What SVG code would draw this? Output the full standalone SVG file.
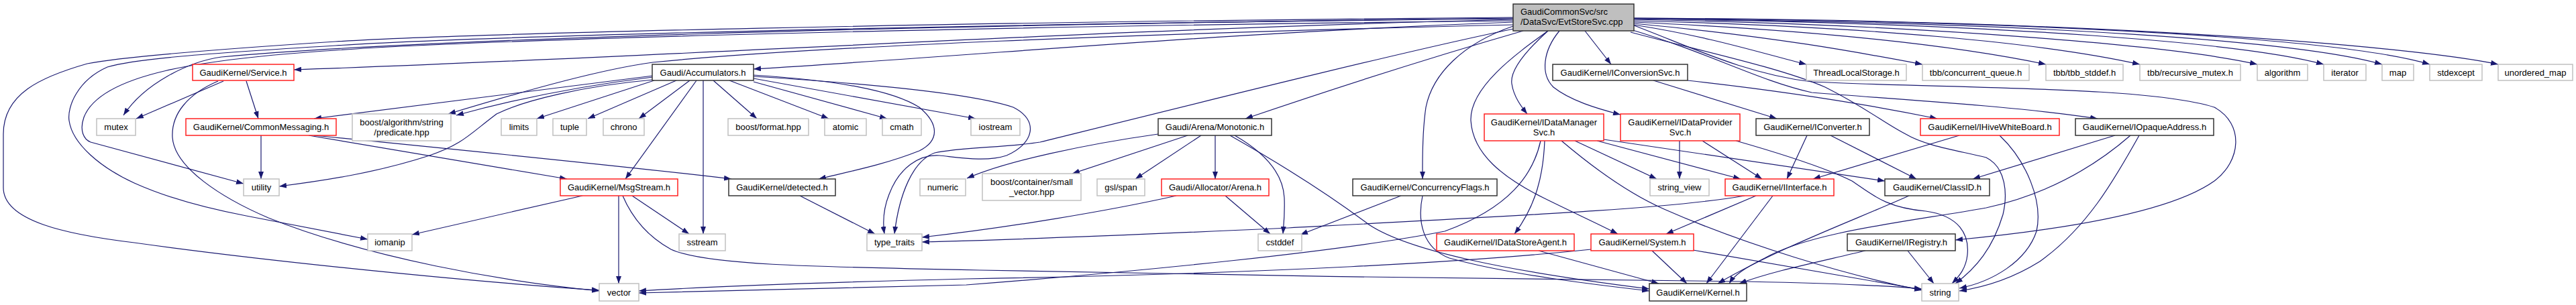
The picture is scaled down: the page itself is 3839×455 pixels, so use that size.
<svg xmlns="http://www.w3.org/2000/svg" width="3839" height="455" viewBox="0 0 3839 455">
<defs>
<marker id="ah" viewBox="0 0 11 8" refX="11" refY="4" markerWidth="11" markerHeight="8" markerUnits="userSpaceOnUse" orient="auto"><path d="M0,0L11,4L0,8z" fill="#191970"/></marker>
<style>
.e{fill:none;stroke:#191970;stroke-width:1.2;marker-end:url(#ah)}
rect{fill:#ffffff;stroke-width:1.5}
.g rect{stroke:#c0c0c0}
.b rect{stroke:#333333}
.r rect{stroke:#ff2020}
.m rect{fill:#bfbfbf;stroke:#333333}
text{font-family:"Liberation Sans",Arial,sans-serif;font-size:13px;fill:#000;text-anchor:middle}
.m text{text-anchor:start}
</style>
</defs>
<rect width="3839" height="455" fill="#ffffff" stroke="none"/>
<g id="edges">
<path class="e" d="M2255,29 C1600,45 1000,85 438,104"/>
<path class="e" d="M2255,33 C1800,50 1500,80 1123,103"/>
<path class="e" d="M2255,27 C1300,38 600,60 330,85 C280,92 215,125 184,172"/>
<path class="e" d="M2255,31 C1400,40 700,60 500,75 C300,88 150,110 125,175 C118,195 125,208 135,212 L363,274"/>
<path class="e" d="M2255,26 C1400,33 700,50 500,62 C300,75 180,85 130,95 C60,115 5,140 5,200 L5,280 C5,330 100,350 200,362 C400,390 700,420 893,433"/>
<path class="e" d="M2255,28 C1400,36 700,55 500,68 C300,80 200,88 160,100 C115,120 100,160 103,180 C108,215 150,250 200,273 C260,300 330,315 367,322 L548,357"/>
<path class="e" d="M2255,37 C1700,50 1200,70 973,93 C900,103 800,130 668,170"/>
<path class="e" d="M2256,43 C2100,75 1800,150 1550,212 C1500,220 1430,220 1393,228 C1360,240 1340,290 1333,349"/>
<path class="e" d="M2270,46 C2100,95 1950,145 1856,177"/>
<path class="e" d="M2255,39 C2180,65 2135,110 2125,160 C2119,200 2120,240 2120,267"/>
<path class="e" d="M2307,46 C2275,75 2250,105 2253,125 C2256,145 2268,160 2276,170"/>
<path class="e" d="M2307,46 C2260,80 2190,130 2192,180 C2195,230 2240,265 2300,295 C2340,315 2380,333 2411,349"/>
<path class="e" d="M2324,46 C2300,75 2295,110 2315,130 C2340,150 2380,162 2415,171"/>
<path class="e" d="M2362,46 L2401,96"/>
<path class="e" d="M2435,37 C2550,55 2620,78 2692,96"/>
<path class="e" d="M2435,35 C2650,55 2780,80 2865,96"/>
<path class="e" d="M2435,33 C2700,45 2900,65 3049,96"/>
<path class="e" d="M2435,31 C2800,40 3050,65 3189,96"/>
<path class="e" d="M2435,29 C2900,38 3250,70 3364,96"/>
<path class="e" d="M2435,28 C3000,35 3350,65 3463,96"/>
<path class="e" d="M2435,28 C3050,33 3430,62 3550,96"/>
<path class="e" d="M2435,27 C3100,32 3500,60 3621,96"/>
<path class="e" d="M2435,27 C3150,30 3600,70 3723,96"/>
<path class="e" d="M2430,44 C2550,80 2620,120 2700,138 C2850,150 3000,158 3126,177"/>
<path class="e" d="M2435,38 C2520,70 2600,110 2700,122 C2900,132 3200,128 3300,160 C3345,185 3340,240 3300,270 C3230,320 3050,345 2914,358"/>
<path class="e" d="M2430,48 C2530,75 2650,100 2720,130 C2780,160 2810,185 2840,200 C2870,218 2920,225 2960,235 C2990,250 2992,290 2985,320 C2970,370 2945,400 2914,423"/>
<path class="e" d="M333,121 L203,177"/>
<path class="e" d="M367,121 L385,177"/>
<path class="e" d="M325,121 C280,140 255,170 257,205 C260,250 330,295 400,325 C550,385 750,420 893,434"/>
<path class="e" d="M389,202 L389,267"/>
<path class="e" d="M460,202 L845,267"/>
<path class="e" d="M468,202 C700,225 950,250 1090,267"/>
<path class="e" d="M973,113 L468,177"/>
<path class="e" d="M973,115 C850,130 760,150 680,172"/>
<path class="e" d="M975,120 L800,177"/>
<path class="e" d="M1008,120 L876,177"/>
<path class="e" d="M1028,120 L952,177"/>
<path class="e" d="M1038,120 L932,267"/>
<path class="e" d="M973,119 C870,128 780,150 740,170 C700,200 690,215 640,232 C560,258 480,270 416,278"/>
<path class="e" d="M1048,120 L1048,349"/>
<path class="e" d="M1063,120 L1128,177"/>
<path class="e" d="M1087,120 L1235,177"/>
<path class="e" d="M1123,122 L1322,177"/>
<path class="e" d="M1123,117 L1454,177"/>
<path class="e" d="M1123,112 C1250,120 1330,135 1370,160 C1400,185 1400,210 1370,225 C1320,245 1270,255 1220,267"/>
<path class="e" d="M1123,114 C1300,125 1450,140 1510,160 C1550,180 1540,215 1500,232 C1470,242 1430,235 1400,232 C1370,230 1340,250 1325,290 C1315,315 1316,335 1318,349"/>
<path class="e" d="M868,292 L614,350"/>
<path class="e" d="M922,292 L922,423"/>
<path class="e" d="M942,292 L1027,349"/>
<path class="e" d="M928,292 C940,320 960,350 1000,372 C1050,395 1200,398 1460,403 C1800,410 2300,418 2603,420 C2700,422 2800,425 2864,431"/>
<path class="e" d="M1192,292 L1304,349"/>
<path class="e" d="M1726,200 C1620,215 1500,240 1441,266"/>
<path class="e" d="M1770,202 L1598,259"/>
<path class="e" d="M1790,202 L1692,267"/>
<path class="e" d="M1811,202 L1811,267"/>
<path class="e" d="M1840,202 C1880,225 1912,255 1914,295 C1915,320 1913,335 1912,349"/>
<path class="e" d="M1833,202 C1900,240 1980,290 2040,335 C2100,375 2250,405 2458,431"/>
<path class="e" d="M1826,292 L1893,349"/>
<path class="e" d="M1753,292 C1650,315 1500,340 1374,354"/>
<path class="e" d="M2088,292 L1938,350"/>
<path class="e" d="M2120,292 C2112,330 2120,370 2160,385 C2250,410 2380,425 2458,434"/>
<path class="e" d="M2302,210 C2300,260 2290,305 2257,349"/>
<path class="e" d="M2296,210 C2285,260 2250,310 2153,345 C2000,375 1700,405 1440,425 C1200,432 1050,435 952,437"/>
<path class="e" d="M2347,210 L2469,267"/>
<path class="e" d="M2380,210 L2594,267"/>
<path class="e" d="M2390,208 C2550,232 2700,253 2809,270"/>
<path class="e" d="M2327,210 C2380,255 2430,290 2480,312 C2600,365 2750,410 2864,433"/>
<path class="e" d="M2503,210 L2503,267"/>
<path class="e" d="M2537,210 L2626,267"/>
<path class="e" d="M2587,210 C2650,228 2720,250 2760,270 C2790,290 2810,310 2870,315 C2920,322 2935,350 2932,380 C2930,400 2920,412 2909,423"/>
<path class="e" d="M2464,120 L2648,177"/>
<path class="e" d="M2515,120 C2650,135 2780,155 2887,177"/>
<path class="e" d="M2693,202 L2663,267"/>
<path class="e" d="M2728,202 L2856,267"/>
<path class="e" d="M2920,202 L2702,267"/>
<path class="e" d="M2980,202 C3020,240 3045,300 3035,345 C3020,390 2970,420 2920,430"/>
<path class="e" d="M3152,202 L2940,267"/>
<path class="e" d="M3175,202 C3120,250 3050,290 2960,310 C2850,330 2700,345 2630,385 C2600,400 2585,410 2577,423"/>
<path class="e" d="M3188,202 C3150,270 3110,340 3040,390 C3000,415 2960,428 2920,434"/>
<path class="e" d="M2600,292 C2500,310 2300,320 1920,340 C1700,350 1500,358 1374,361"/>
<path class="e" d="M2617,292 L2483,349"/>
<path class="e" d="M2642,292 L2543,423"/>
<path class="e" d="M2371,372 C2200,390 1900,408 1440,416 C1200,422 1050,428 952,434"/>
<path class="e" d="M2462,374 L2514,423"/>
<path class="e" d="M2523,373 C2650,395 2780,418 2864,432"/>
<path class="e" d="M2293,374 L2472,423"/>
<path class="e" d="M2845,292 C2760,330 2650,370 2560,423"/>
<path class="e" d="M2780,374 C2700,393 2640,405 2592,423"/>
<path class="e" d="M2843,374 L2882,423"/>
</g>
<g id="n_main" class="m"><rect x="2255" y="6" width="180" height="40"/><text x="2266" y="21.5">GaudiCommonSvc/src</text><text x="2266" y="36.5">/DataSvc/EvtStoreSvc.cpp</text></g>
<g id="n_service" class="r"><rect x="287" y="96" width="151" height="24"/><text x="362.5" y="112.5">GaudiKernel/Service.h</text></g>
<g id="n_accum" class="b"><rect x="972" y="96" width="151" height="24"/><text x="1047.5" y="112.5">Gaudi/Accumulators.h</text></g>
<g id="n_iconvsvc" class="b"><rect x="2314" y="96" width="201" height="24"/><text x="2414.5" y="112.5">GaudiKernel/IConversionSvc.h</text></g>
<g id="n_tls" class="g"><rect x="2692" y="96" width="149" height="24"/><text x="2766.5" y="112.5">ThreadLocalStorage.h</text></g>
<g id="n_tbbcq" class="g"><rect x="2865" y="96" width="159" height="24"/><text x="2944.5" y="112.5">tbb/concurrent_queue.h</text></g>
<g id="n_tbbstd" class="g"><rect x="3049" y="96" width="115" height="24"/><text x="3106.5" y="112.5">tbb/tbb_stddef.h</text></g>
<g id="n_tbbrm" class="g"><rect x="3189" y="96" width="150" height="24"/><text x="3264" y="112.5">tbb/recursive_mutex.h</text></g>
<g id="n_algorithm" class="g"><rect x="3364" y="96" width="75" height="24"/><text x="3401.5" y="112.5">algorithm</text></g>
<g id="n_iterator" class="g"><rect x="3463" y="96" width="63" height="24"/><text x="3494.5" y="112.5">iterator</text></g>
<g id="n_map" class="g"><rect x="3550" y="96" width="47" height="24"/><text x="3573.5" y="112.5">map</text></g>
<g id="n_stdexcept" class="g"><rect x="3621" y="96" width="78" height="24"/><text x="3660" y="112.5">stdexcept</text></g>
<g id="n_unordered_map" class="g"><rect x="3723" y="96" width="111" height="24"/><text x="3778.5" y="112.5">unordered_map</text></g>
<g id="n_mutex" class="g"><rect x="144" y="177" width="58" height="25"/><text x="173" y="194">mutex</text></g>
<g id="n_commonmsg" class="r"><rect x="277" y="177" width="224" height="25"/><text x="389" y="194">GaudiKernel/CommonMessaging.h</text></g>
<g id="n_predicate" class="g"><rect x="525" y="170" width="147" height="40"/><text x="598.5" y="186.5">boost/algorithm/string</text><text x="598.5" y="201.5">/predicate.hpp</text></g>
<g id="n_limits" class="g"><rect x="747" y="177" width="53" height="25"/><text x="773.5" y="194">limits</text></g>
<g id="n_tuple" class="g"><rect x="824" y="177" width="50" height="25"/><text x="849" y="194">tuple</text></g>
<g id="n_chrono" class="g"><rect x="899" y="177" width="61" height="25"/><text x="929.5" y="194">chrono</text></g>
<g id="n_format" class="g"><rect x="1085" y="177" width="120" height="25"/><text x="1145" y="194">boost/format.hpp</text></g>
<g id="n_atomic" class="g"><rect x="1229" y="177" width="62" height="25"/><text x="1260" y="194">atomic</text></g>
<g id="n_cmath" class="g"><rect x="1315" y="177" width="58" height="25"/><text x="1344" y="194">cmath</text></g>
<g id="n_iostream" class="g"><rect x="1447" y="177" width="73" height="25"/><text x="1483.5" y="194">iostream</text></g>
<g id="n_monotonic" class="b"><rect x="1726" y="177" width="169" height="25"/><text x="1810.5" y="194">Gaudi/Arena/Monotonic.h</text></g>
<g id="n_idatamgr" class="r"><rect x="2212" y="170" width="178" height="40"/><text x="2301" y="186.5">GaudiKernel/IDataManager</text><text x="2301" y="201.5">Svc.h</text></g>
<g id="n_idataprov" class="r"><rect x="2415" y="170" width="178" height="40"/><text x="2504" y="186.5">GaudiKernel/IDataProvider</text><text x="2504" y="201.5">Svc.h</text></g>
<g id="n_iconverter" class="b"><rect x="2617" y="177" width="169" height="25"/><text x="2701.5" y="194">GaudiKernel/IConverter.h</text></g>
<g id="n_ihive" class="r"><rect x="2862" y="177" width="207" height="25"/><text x="2965.5" y="194">GaudiKernel/IHiveWhiteBoard.h</text></g>
<g id="n_iopaque" class="b"><rect x="3093" y="177" width="206" height="25"/><text x="3196" y="194">GaudiKernel/IOpaqueAddress.h</text></g>
<g id="n_utility" class="g"><rect x="363" y="267" width="53" height="25"/><text x="389.5" y="284">utility</text></g>
<g id="n_msgstream" class="r"><rect x="835" y="267" width="175" height="25"/><text x="922.5" y="284">GaudiKernel/MsgStream.h</text></g>
<g id="n_detected" class="b"><rect x="1086" y="267" width="159" height="25"/><text x="1165.5" y="284">GaudiKernel/detected.h</text></g>
<g id="n_numeric" class="g"><rect x="1371" y="267" width="68" height="25"/><text x="1405" y="284">numeric</text></g>
<g id="n_smallvec" class="g"><rect x="1464" y="259" width="147" height="40"/><text x="1537.5" y="275.5">boost/container/small</text><text x="1537.5" y="290.5">_vector.hpp</text></g>
<g id="n_gslspan" class="g"><rect x="1635" y="267" width="71" height="25"/><text x="1670.5" y="284">gsl/span</text></g>
<g id="n_arena" class="r"><rect x="1731" y="267" width="160" height="25"/><text x="1811" y="284">Gaudi/Allocator/Arena.h</text></g>
<g id="n_concflags" class="b"><rect x="2016" y="267" width="215" height="25"/><text x="2123.5" y="284">GaudiKernel/ConcurrencyFlags.h</text></g>
<g id="n_stringview" class="g"><rect x="2459" y="267" width="88" height="25"/><text x="2503" y="284">string_view</text></g>
<g id="n_iinterface" class="r"><rect x="2571" y="267" width="162" height="25"/><text x="2652" y="284">GaudiKernel/IInterface.h</text></g>
<g id="n_classid" class="b"><rect x="2809" y="267" width="156" height="25"/><text x="2887" y="284">GaudiKernel/ClassID.h</text></g>
<g id="n_iomanip" class="g"><rect x="548" y="349" width="66" height="25"/><text x="581" y="366">iomanip</text></g>
<g id="n_sstream" class="g"><rect x="1012" y="349" width="69" height="25"/><text x="1046.5" y="366">sstream</text></g>
<g id="n_typetraits" class="g"><rect x="1292" y="349" width="82" height="25"/><text x="1333" y="366">type_traits</text></g>
<g id="n_cstddef" class="g"><rect x="1875" y="349" width="65" height="25"/><text x="1907.5" y="366">cstddef</text></g>
<g id="n_idatastoreagent" class="r"><rect x="2141" y="349" width="205" height="25"/><text x="2243.5" y="366">GaudiKernel/IDataStoreAgent.h</text></g>
<g id="n_system" class="r"><rect x="2371" y="349" width="153" height="25"/><text x="2447.5" y="366">GaudiKernel/System.h</text></g>
<g id="n_iregistry" class="b"><rect x="2753" y="349" width="161" height="25"/><text x="2833.5" y="366">GaudiKernel/IRegistry.h</text></g>
<g id="n_vector" class="g"><rect x="893" y="423" width="59" height="26"/><text x="922.5" y="440.5">vector</text></g>
<g id="n_kernel" class="b"><rect x="2458" y="423" width="145" height="26"/><text x="2530.5" y="440.5">GaudiKernel/Kernel.h</text></g>
<g id="n_string" class="g"><rect x="2864" y="423" width="55" height="26"/><text x="2891.5" y="440.5">string</text></g>
</svg>
